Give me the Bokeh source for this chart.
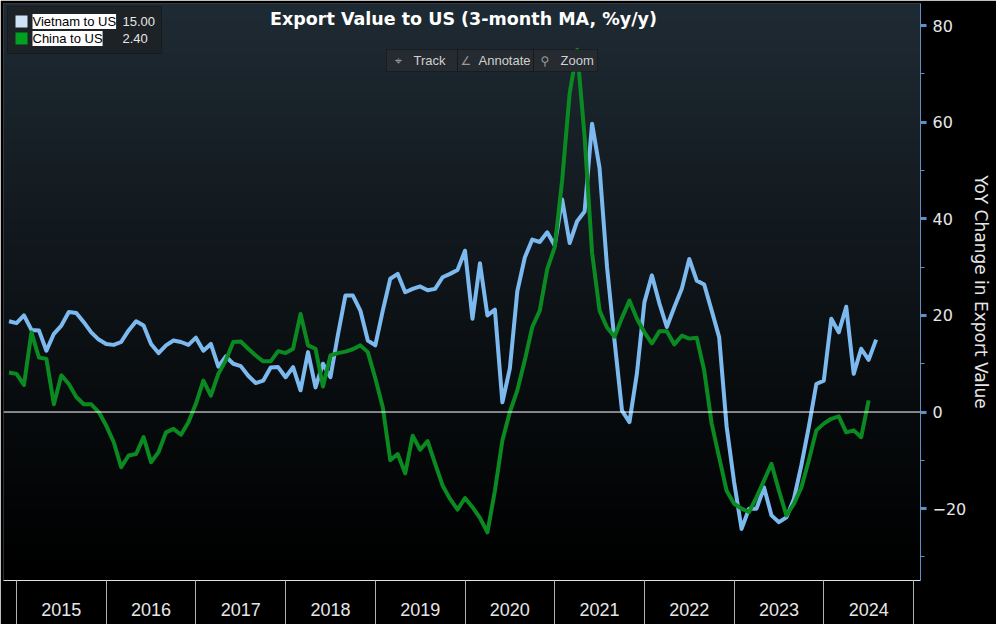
import numpy as np
import pandas as pd
from bokeh.plotting import figure
from bokeh.models import FixedTicker, Span, Label, BoxAnnotation, Range1d
from bokeh.embed import file_html
from bokeh.resources import INLINE

# ---------------- data ----------------
start_month = "2014-12"
series_names = ["Vietnam to US", "China to US"]
vietnam = [18.8, 18.4, 20.0, 17.0, 16.9, 12.7, 16.2, 17.9, 20.7, 20.5,
           18.6, 16.5, 15.0, 14.1, 13.9, 14.5, 16.9, 18.8, 17.9, 14.1,
           12.2, 13.8, 14.8, 14.5, 13.9, 15.4, 12.7, 14.1, 9.4, 11.5,
           10.0, 9.5, 7.5, 6.0, 6.5, 9.2, 9.3, 7.2, 9.3, 4.5,
           12.4, 5.1, 10.0, 7.2, 16.0, 24.1, 24.1, 21.0, 14.8, 13.8,
           21.0, 27.6, 28.6, 24.8, 25.5, 26.0, 25.2, 25.5, 27.9, 28.6,
           29.4, 33.4, 19.3, 30.8, 20.0, 21.2, 2.0, 9.0, 25.0, 32.0,
           35.7, 35.2, 37.2, 34.5, 44.0, 35.0, 39.5, 41.5, 59.7, 50.5,
           30.0, 14.8, 0.3, -2.1, 8.0, 22.7, 28.3, 22.5, 17.6, 21.7,
           25.5, 31.7, 27.2, 26.4, 21.0, 15.5, -3.0, -14.5, -24.2, -20.0,
           -20.0, -15.6, -21.4, -22.8, -21.8, -18.0, -11.0, -3.0, 5.8, 6.5,
           19.3, 16.5, 21.8, 7.9, 13.1, 10.8, 15.0]
china = [8.2, 7.9, 5.6, 16.5, 11.3, 11.0, 1.6, 7.6, 5.8, 3.1,
         1.6, 1.6, 0.0, -2.8, -6.2, -11.4, -9.0, -8.7, -5.2, -10.4,
         -8.3, -4.2, -3.5, -4.7, -2.1, 1.7, 6.5, 3.4, 7.9, 10.7,
         14.5, 14.6, 13.1, 11.7, 10.5, 10.5, 12.6, 12.2, 13.1, 20.3,
         13.8, 13.1, 5.3, 11.7, 12.2, 12.5, 13.0, 13.8, 12.4, 7.0,
         1.0, -10.0, -8.7, -12.7, -4.9, -7.8, -6.0, -10.7, -15.2, -18.0,
         -20.2, -17.8, -19.7, -21.9, -24.9, -16.3, -5.9, 0.0, 4.5, 10.7,
         17.6, 21.0, 29.6, 34.1, 48.0, 66.0, 75.0, 57.0, 33.0, 21.0,
         17.5, 15.6, 19.5, 23.1, 19.3, 16.5, 14.2, 16.7, 16.7, 14.0,
         15.8, 15.2, 15.4, 8.6, -2.4, -9.4, -16.3, -19.0, -20.0, -20.7,
         -17.6, -14.2, -10.7, -16.3, -21.4, -19.0, -15.6, -10.0, -3.8, -2.4,
         -1.4, -0.9, -4.2, -3.8, -5.2, 2.4]
year_labels = ["2015", "2016", "2017", "2018", "2019", "2020", "2021", "2022", "2023", "2024"]
y_major = [-20, 0, 20, 40, 60, 80]
y_minor = [-30, -10, 10, 30, 50, 70]


def frac_year(n):
    d = pd.date_range(start_month, periods=n, freq="MS")
    return list(d.year + (d.month - 1) / 12.0)


xv = frac_year(len(vietnam))
xc = frac_year(len(china))

# ---------------- layout / style ----------------
X0, X1 = 2014.855, 2025.078
Y0, Y1 = -34.88, 84.58
FW, FH = 917, 577
BLUE = "#7cb9ef"
GREEN = "#0b8a22"
AXIS_BLUE = "#5f8fc6"
TXT = "#e6e6e6"

p = figure(frame_width=FW, frame_height=FH, output_backend="svg",
           toolbar_location=None, y_axis_location="right",
           x_range=Range1d(X0, X1), y_range=Range1d(Y0, Y1),
           min_border_left=3, min_border_top=3, min_border_right=76,
           min_border_bottom=44)
p.background_fill_color = "black"
p.border_fill_color = "black"
p.outline_line_color = None
p.xgrid.grid_line_color = None
p.ygrid.grid_line_color = None

# vertical gradient background
n = 256
t = np.linspace(0.0, 1.0, n) ** 1.1
top = np.array([31, 43, 52])
img = np.empty((n, 1), dtype=np.uint32)
view = img.view(dtype=np.uint8).reshape((n, 1, 4))
for k in range(3):
    view[:, 0, k] = (top[k] * t).astype(np.uint8)
view[:, 0, 3] = 255
p.image_rgba(image=[img], x=X0, y=Y0, dw=X1 - X0, dh=Y1 - Y0, level="image")

# zero line
p.add_layout(Span(location=0, dimension="width", line_color="white", line_width=1))

# series
p.line(xv, vietnam, line_color=BLUE, line_width=4, line_join="round")
p.line(xc, china, line_color=GREEN, line_width=4, line_join="round")

# x axis: year labels at mid-year, boundary ticks as minor ticks
xa = p.xaxis[0]
mids = [int(y) + 0.5 for y in year_labels]
bounds = [int(year_labels[0]) + i for i in range(len(year_labels) + 1)]
xa.ticker = FixedTicker(ticks=mids, minor_ticks=bounds)
xa.major_label_overrides = {m: lab for m, lab in zip(mids, year_labels)}
xa.major_tick_out = 0
xa.major_tick_in = 0
xa.minor_tick_out = 44
xa.minor_tick_in = 0
xa.minor_tick_line_color = "#b0b0b0"
xa.axis_line_color = "#e0e0e0"
xa.major_label_standoff = -22
xa.major_label_text_color = TXT
xa.major_label_text_font = "Liberation Sans"
xa.major_label_text_font_size = "18px"

# y axis on right
ya = p.yaxis[0]
ya.ticker = FixedTicker(ticks=y_major, minor_ticks=y_minor)
ya.axis_line_color = AXIS_BLUE
ya.major_tick_line_color = AXIS_BLUE
ya.major_tick_line_width = 3
ya.major_tick_out = 6
ya.major_tick_in = 0
ya.minor_tick_line_color = AXIS_BLUE
ya.minor_tick_out = 4
ya.minor_tick_in = 0
ya.major_label_standoff = 6
ya.major_label_text_color = TXT
ya.major_label_text_font = "DejaVu Sans"
ya.major_label_text_font_size = "16px"
ya.axis_label = "YoY Change in Export Value"
ya.axis_label_text_color = TXT
ya.axis_label_text_font = "DejaVu Sans"
ya.axis_label_text_font_style = "normal"
ya.axis_label_text_font_size = "17px"
ya.axis_label_standoff = 2


def sbox(l, r, t_, b, **kw):
    return BoxAnnotation(left=l, right=r, top=t_, bottom=b,
                         left_units="screen", right_units="screen",
                         top_units="screen", bottom_units="screen",
                         fill_alpha=1.0, level="overlay", **kw)


def slabel(x, y, text, **kw):
    return Label(x=x, y=y, x_units="screen", y_units="screen", text=text,
                 text_baseline="middle", level="overlay", **kw)


# title inside frame
p.add_layout(slabel(460, FH - 15, "Export Value to US (3-month MA, %y/y)",
                    text_font="DejaVu Sans", text_font_style="bold",
                    text_font_size="17.5px", text_color="white", text_align="center"))

# legend box
p.add_layout(sbox(4, 158, FH - 3, FH - 50, fill_color="#1d2226",
                  line_color="#050607", line_width=1))
sw_colors = ["#cfe3f7", "#00a020"]
vals = [f"{vietnam[-1]:.2f}", f"{china[-1]:.2f}"]
for i, (name, col, v) in enumerate(zip(series_names, sw_colors, vals)):
    cy = FH - 18 - 17 * i
    p.add_layout(sbox(12, 24, cy + 6, cy - 6, fill_color=col, line_color=None))
    p.add_layout(slabel(29, cy, name, text_font="Liberation Sans", text_font_size="13px",
                        text_color="black", background_fill_color="white",
                        text_align="left"))
    p.add_layout(slabel(119, cy, v, text_font="Liberation Sans", text_font_size="13px",
                        text_color=TXT, text_align="left"))

# toolbar-like buttons
btns = [("Track", "\u2316", 383, 454, 8, 27),
        ("Annotate", "\u2220", 454, 530, 3, 21),
        ("Zoom", "\u26b2", 530, 594, 7, 27)]
for lab, icon, l, r, io, to in btns:
    p.add_layout(sbox(l, r, FH - 46, FH - 68, fill_color="#252b30",
                      line_color="#060708", line_width=1))
for lab, icon, l, r, io, to in btns:
    p.add_layout(slabel(l + io, FH - 57, icon, text_font="DejaVu Sans",
                        text_font_size="12px", text_color="#9a9a9a", text_align="left"))
    p.add_layout(slabel(l + to, FH - 57, lab, text_font="Liberation Sans",
                        text_font_size="13px", text_color="#d0d0d0", text_align="left"))

open("out.html", "w").write(file_html(p, INLINE))
